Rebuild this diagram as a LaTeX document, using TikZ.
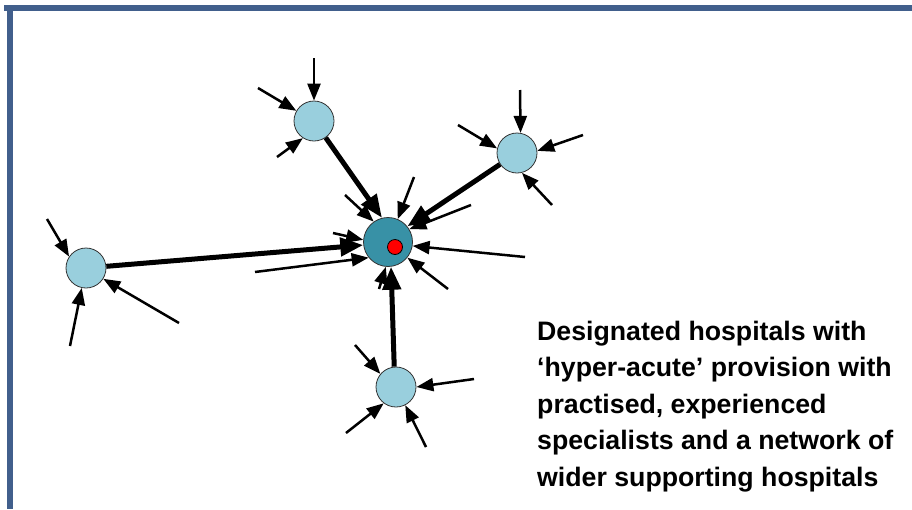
\documentclass[tikz,border=0pt]{standalone}
\usepackage{fontspec}
\setmainfont{Liberation Sans}
\usetikzlibrary{arrows.meta}
\definecolor{framecol}{RGB}{65,95,140}
\definecolor{satcol}{RGB}{153,207,221}
\definecolor{hubcol}{RGB}{56,145,166}

\begin{document}
\begin{tikzpicture}[x=1pt,y=-1pt,
	sat/.style={circle,draw=black!80,line width=0.8pt,fill=satcol,minimum size=40pt,inner sep=0pt},
	hubnode/.style={circle,draw=black!80,line width=0.8pt,fill=hubcol,minimum size=49pt,inner sep=0pt},
	feed/.style={line width=2.5pt,-{Triangle[length=17pt,width=13pt]}},
	link/.style={line width=5pt,-{Triangle[length=23pt,width=18pt]}}]
		\useasboundingbox (0,0) rectangle (912,509);
		\fill[framecol] (4,5) rectangle (912,11);
		\fill[framecol] (7,5) rectangle (13,509);
		% hospitals
		\node[hubnode] (H) at (388,242) {};
		\node[sat] (T) at (314,121) {};
		\node[sat] (R) at (517,153) {};
		\node[sat] (L) at (86,268) {};
		\node[sat] (B) at (396,387) {};
		\node[circle,draw=black,line width=0.8pt,fill=red,minimum size=15pt,inner sep=0pt] (dot) at (395,247) {};
		% free ends of the small arrows
		\coordinate (t1) at (314,58);
		\coordinate (t2) at (258,88);
		\coordinate (t3) at (277,157);
		\coordinate (r1) at (520,90);
		\coordinate (r2) at (458,125);
		\coordinate (r3) at (583,135);
		\coordinate (r4) at (552,205);
		\coordinate (l1) at (47,219);
		\coordinate (l2) at (70,346);
		\coordinate (l3) at (179,323);
		\coordinate (b1) at (355,345);
		\coordinate (b2) at (474,379);
		\coordinate (b3) at (346,433);
		\coordinate (b4) at (426,447);
		\coordinate (h1) at (345,195);
		\coordinate (h2) at (414,177);
		\coordinate (h3) at (471,205);
		\coordinate (h4) at (525,257);
		\coordinate (h5) at (448,289);
		\coordinate (h6) at (379,289);
		\coordinate (h7) at (255,272);
		\coordinate (h8) at (333,233);
		% links to the hub
		\draw[link] (T) -- (H.104);
		\draw[link] (R) -- (H.39);
		\draw[link] (L) -- (H.187);
		\draw[link] (B.95) -- (H.277);
		% small arrows
		\draw[feed] (t1) -- (T.90);
		\draw[feed] (t2) -- (T.150);
		\draw[feed] (t3) -- (T.237);
		\draw[feed] (r1) -- (R.80);
		\draw[feed] (r2) -- (R.167);
		\draw[feed] (r3) -- (R.6);
		\draw[feed] (r4) -- (R.284);
		\draw[feed] (l1) -- (L.146);
		\draw[feed] (l2) -- (L.258);
		\draw[feed] (l3) -- (L.328);
		\draw[feed] (b1) -- (B.140);
		\draw[feed] (b2) -- (B.0);
		\draw[feed] (b3) -- (B.233);
		\draw[feed] (b4) -- (B.297);
		\draw[feed] (h1) -- (H.125);
		\draw[feed] (h2) -- (H.67);
		\draw[feed] (h3) -- (H.31);
		\draw[feed] (h4) -- (H.351);
		\draw[feed] (h5) -- (H.321);
		\draw[feed] (h6) -- (H.265);
		\draw[feed] (h7) -- (H.219);
		\draw[feed] (h8) -- (H.175);
		\node[anchor=north west,inner sep=0pt,align=left,font=\fontsize{26.7}{36.4}\selectfont\bfseries] (caption) at (537,321) {Designated hospitals with\\‘hyper-acute’ provision with\\practised, experienced\\specialists and a network of\\wider supporting hospitals};
	\end{tikzpicture}
\end{document}
